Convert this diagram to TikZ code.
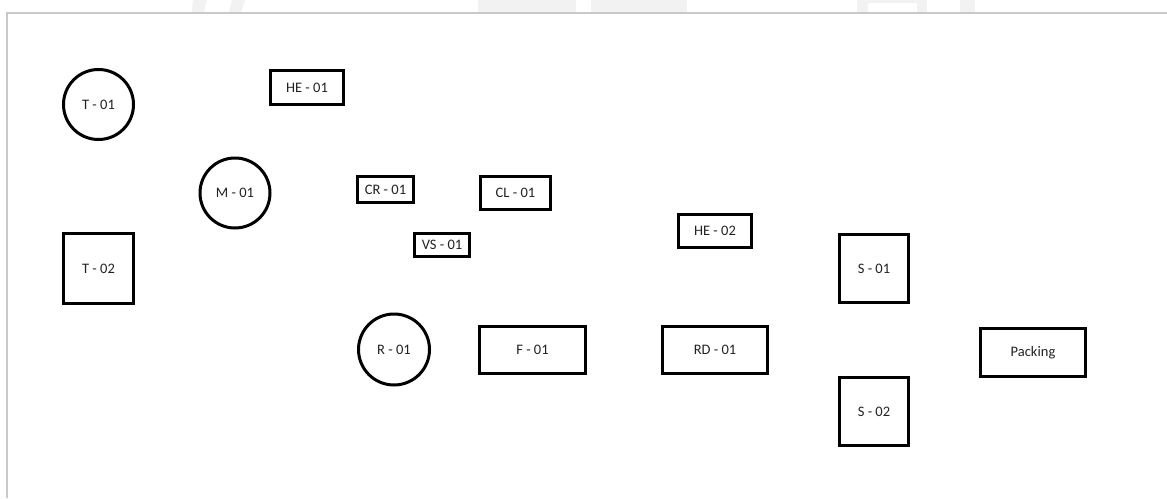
\documentclass[tikz,border=0pt]{standalone}
\usepackage{fontspec}
\setmainfont{Carlito}
\definecolor{framegray}{HTML}{C9C9C9}
\definecolor{wmgray}{HTML}{F2F2F2}
\definecolor{txtgray}{HTML}{222222}
\tikzset{
  unit/.style={draw=black, line width=3.3pt, font=\fontsize{14.5}{16}\selectfont, text=txtgray, inner sep=0pt, fill=white},
  boxunit/.style={unit, rectangle},
  circunit/.style={unit, circle, line width=3pt},
  wm/.style={fill=wmgray, draw=none},
}
\begin{document}
\begin{tikzpicture}[x=1pt,y=-1pt]
\useasboundingbox (0,0) rectangle (1167,498);
\fill[white] (0,0) rectangle (1167,498);
% faint watermark above frame
\fill[wm] (193,0) -- (207,0) -- (204,12) -- (192,12) -- cycle;
\fill[wm] (232,0) -- (245,0) -- (241,12) -- (229,12) -- cycle;
\fill[wm] (478,0) rectangle (576,12);
\fill[wm] (591,0) rectangle (687,12);
\fill[wm] (857,0) rectangle (927,12);
\fill[white] (868,3) rectangle (917,12);
\fill[wm] (960,0) rectangle (975,12);
% frame
\draw[framegray, line width=2pt] (6,13) -- (1167,13);
\draw[framegray, line width=2pt] (7,12) -- (7,498);
% units
\node[circunit, minimum size=70pt] (t01) at (98.5,104.5) {T - 01};
\node[boxunit, minimum width=73pt, minimum height=34pt] (he01) at (307,87.5) {HE - 01};
\node[circunit, minimum size=70pt] (m01) at (235,193) {M - 01};
\node[boxunit, minimum width=56pt, minimum height=26pt] (cr01) at (385.5,189.5) {CR - 01};
\node[boxunit, minimum width=70pt, minimum height=33pt] (cl01) at (515.5,193) {CL - 01};
\node[boxunit, minimum width=55pt, minimum height=23pt] (vs01) at (442,245) {VS - 01};
\node[boxunit, minimum width=70pt, minimum height=70pt] (t02) at (98.5,268.5) {T - 02};
\node[circunit, minimum size=71pt] (r01) at (394,349.5) {R - 01};
\node[boxunit, minimum width=106pt, minimum height=47pt] (f01) at (532.5,350) {F - 01};
\node[boxunit, minimum width=73pt, minimum height=33pt] (he02) at (715,231) {HE - 02};
\node[boxunit, minimum width=69pt, minimum height=68pt] (s01) at (874,268.5) {S - 01};
\node[boxunit, minimum width=105pt, minimum height=47pt] (rd01) at (715,350) {RD - 01};
\node[boxunit, minimum width=69pt, minimum height=68pt] (s02) at (874,411.5) {S - 02};
\node[boxunit, minimum width=105pt, minimum height=48pt] (pack) at (1033,352.5) {Packing};
\end{tikzpicture}
\end{document}
